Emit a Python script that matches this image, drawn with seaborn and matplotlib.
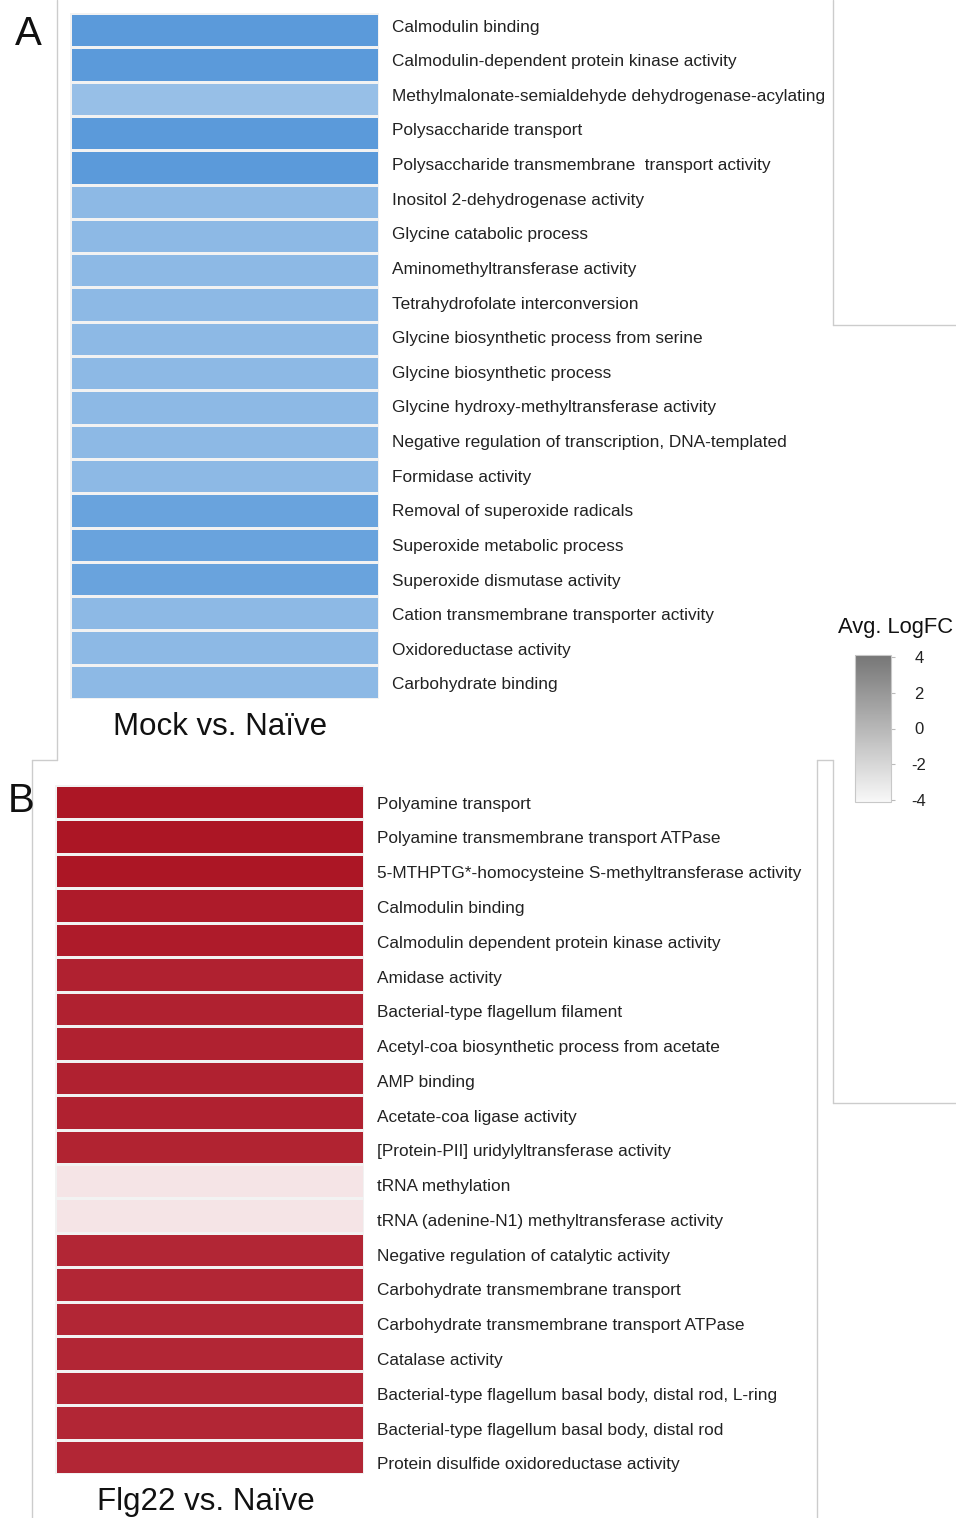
import matplotlib
matplotlib.use("Agg")
import matplotlib.pyplot as plt
from matplotlib.colors import LinearSegmentedColormap, Normalize
from matplotlib.cm import ScalarMappable
from matplotlib.lines import Line2D
import matplotlib.transforms as mtransforms
import numpy as np
import pandas as pd
import seaborn as sns

sns.set_theme(style="white")
plt.rcParams["font.family"] = ["Liberation Sans", "DejaVu Sans"]
plt.rcParams["axes.unicode_minus"] = False

# GO terms and average log fold changes
mock_terms = [
    "Calmodulin binding",
    "Calmodulin-dependent protein kinase activity",
    "Methylmalonate-semialdehyde dehydrogenase-acylating",
    "Polysaccharide transport",
    "Polysaccharide transmembrane  transport activity",
    "Inositol 2-dehydrogenase activity",
    "Glycine catabolic process",
    "Aminomethyltransferase activity",
    "Tetrahydrofolate interconversion",
    "Glycine biosynthetic process from serine",
    "Glycine biosynthetic process",
    "Glycine hydroxy-methyltransferase activity",
    "Negative regulation of transcription, DNA-templated",
    "Formidase activity",
    "Removal of superoxide radicals",
    "Superoxide metabolic process",
    "Superoxide dismutase activity",
    "Cation transmembrane transporter activity",
    "Oxidoreductase activity",
    "Carbohydrate binding",
]
mock_logfc = [-3.62, -3.62, -2.30, -3.62, -3.62, -2.52, -2.52, -2.52, -2.52, -2.52,
              -2.52, -2.52, -2.52, -2.52, -3.29, -3.29, -3.29, -2.52, -2.52, -2.52]

flg_terms = [
    "Polyamine transport",
    "Polyamine transmembrane transport ATPase",
    "5-MTHPTG*-homocysteine S-methyltransferase activity",
    "Calmodulin binding",
    "Calmodulin dependent protein kinase activity",
    "Amidase activity",
    "Bacterial-type flagellum filament",
    "Acetyl-coa biosynthetic process from acetate",
    "AMP binding",
    "Acetate-coa ligase activity",
    "[Protein-PII] uridylyltransferase activity",
    "tRNA methylation",
    "tRNA (adenine-N1) methyltransferase activity",
    "Negative regulation of catalytic activity",
    "Carbohydrate transmembrane transport",
    "Carbohydrate transmembrane transport ATPase",
    "Catalase activity",
    "Bacterial-type flagellum basal body, distal rod, L-ring",
    "Bacterial-type flagellum basal body, distal rod",
    "Protein disulfide oxidoreductase activity",
]
flg_logfc = [3.90, 3.90, 3.88, 3.80, 3.80, 3.70, 3.70, 3.70, 3.70, 3.70,
             3.68, 0.44, 0.44, 3.60, 3.60, 3.60, 3.60, 3.60, 3.60, 3.60]

panel_titles = ["Mock vs. Naïve", "Flg22 vs. Naïve"]
panel_letters = ["A", "B"]
cbar_ticks = [4, 2, 0, -2, -4]
cbar_title = "Avg. LogFC"

W, H = 956, 1518
fig = plt.figure(figsize=(W / 100, H / 100), dpi=100)
fig.patch.set_facecolor("white")


def px_axes(x0, y0, x1, y1):
    return fig.add_axes([x0 / W, 1 - y1 / H, (x1 - x0) / W, (y1 - y0) / H])


div_cmap = LinearSegmentedColormap.from_list(
    "bwr_fc", ["#4a90d6", "#ffffff", "#aa1020"])

label_color = "#222222"


def draw_panel(box, terms, values, title, title_y, letter, letter_xy,
               drift):
    ax = px_axes(*box)
    df = pd.DataFrame({"logfc": values}, index=terms)
    sns.heatmap(df, ax=ax, cmap=div_cmap, vmin=-4, vmax=4, cbar=False,
                linewidths=1.0, linecolor="#f2f2f2",
                yticklabels=terms, xticklabels=False)
    ax.yaxis.tick_right()
    ax.tick_params(axis="y", length=0, pad=9.5, labelsize=12.4,
                   labelcolor=label_color, rotation=0)
    ax.set_ylabel("")
    ax.set_xlabel("")
    # labels sit on a slightly looser pitch than the rows
    labels = ax.get_yticklabels()
    n = len(labels)
    for i, lbl in enumerate(labels):
        off = drift[0] + (drift[1] - drift[0]) * i / (n - 1)
        shift = mtransforms.ScaledTranslation(0, -off / 100, fig.dpi_scale_trans)
        lbl.set_rotation(0)
        lbl.set_va("center")
        lbl.set_transform(lbl.get_transform() + shift)
    cx = (box[0] + box[2]) / 2 / W
    fig.text(cx - 4 / W, 1 - title_y / H, title, ha="center", va="center",
             fontsize=22.5, color="#111111")
    fig.text(letter_xy[0] / W, 1 - letter_xy[1] / H, letter, ha="center",
             va="center", fontsize=29, color="#111111")
    return ax


draw_panel((70, 13, 379, 699), mock_terms, mock_logfc, panel_titles[0], 727,
           panel_letters[0], (28, 34), (-3, 3))
draw_panel((55, 785, 364, 1474), flg_terms, flg_logfc, panel_titles[1], 1502,
           panel_letters[1], (21, 801), (2, 8))

# colour key
cax = px_axes(855, 655, 891, 802)
gray_cmap = LinearSegmentedColormap.from_list("gray_key", ["#f8f8f8", "#767676"])
cb = fig.colorbar(ScalarMappable(norm=Normalize(-4.1, 4.1), cmap=gray_cmap),
                  cax=cax, ticks=cbar_ticks)
cb.outline.set_edgecolor("#c8c8c8")
cb.outline.set_linewidth(0.8)
cax.tick_params(length=3, width=0.8, color="#bbbbbb", pad=17,
                labelsize=12, labelcolor=label_color)
for t in cax.get_yticklabels():
    t.set_ha("center")
fig.text(896 / W, 1 - 627 / H, cbar_title, ha="center", va="center",
         fontsize=15.8, color="#111111")

# thin grey panel frames
frame = "#cccccc"
segments = [
    ((57, 0), (57, 760)),
    ((32, 760), (57, 760)),
    ((32, 760), (32, 1518)),
    ((833, 0), (833, 325)),
    ((833, 325), (956, 325)),
    ((817, 760), (833, 760)),
    ((817, 760), (817, 1518)),
    ((833, 760), (833, 1103)),
    ((833, 1103), (956, 1103)),
]
for (xa, ya), (xb, yb) in segments:
    fig.add_artist(Line2D([xa / W, xb / W], [1 - ya / H, 1 - yb / H],
                          transform=fig.transFigure, color=frame, lw=1.0))

fig.savefig("out.png", dpi=100, facecolor="white")
